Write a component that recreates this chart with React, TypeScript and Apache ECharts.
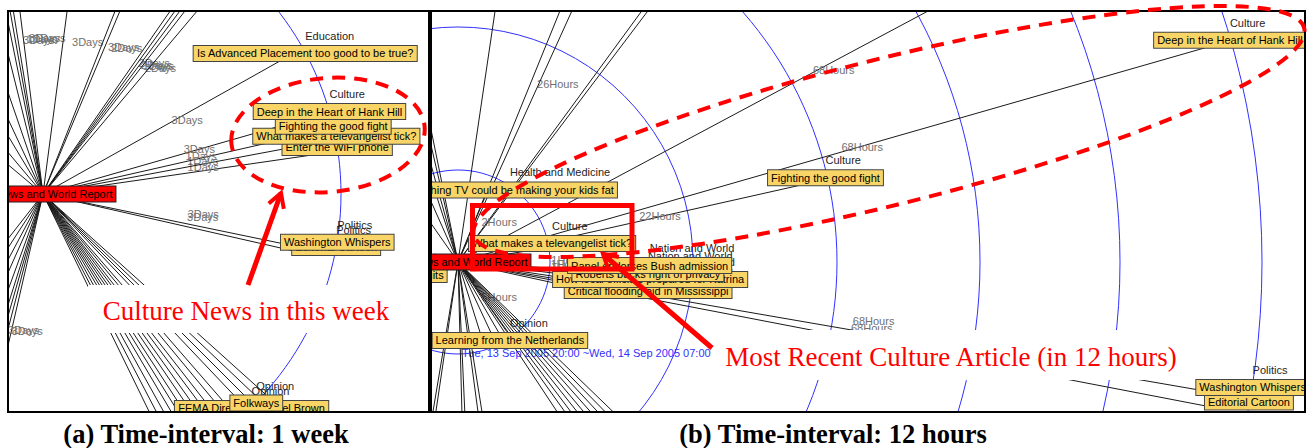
import React, { useEffect, useRef } from 'react';
import * as echarts from 'echarts';

// [distance from hub, angle in degrees (counter-clockwise from east), edge label, category, article title]
type Article = [number, number, string, string, string];

const HUB_TITLE = 'US News and World Report';

// ---------- (a) time-interval: 1 week ----------
const leftRings: number[] = [298];
const leftRingLabels: string[] = [''];
const leftArticles: Article[] = [
  [300, 140, '', '', ''],
  [300, 130, '', '', ''],
  [300, 121, '', '', ''],
  [300, 115, '', '', ''],
  [300, 109, '', '', ''],
  [300, 104, '', '', ''],
  [300, 101.5, '3Days', '', ''],
  [300, 100.2, '1Days', '', ''],
  [300, 99.2, '3Days', '', ''],
  [300, 97.2, '1Days', '', ''],
  [292, 82.5, '3Days', '', ''],
  [300, 68.5, '3Days', '', ''],
  [300, 67.2, '2Days', '', ''],
  [300, 55.2, '2Days', '', ''],
  [300, 54.2, '2Days', '', ''],
  [300, 53.2, '1Days', '', ''],
  [300, 52.2, '2Days', '', ''],
  [300, 49.9, '', '', ''],
  [272, 29.3, '3Days', 'Education', 'Is Advanced Placement too good to be true?'],
  [272, 8.25, '1Days', 'Culture', 'Enter the WiFi phone'],
  [273, 10.6, '1Days', 'Culture', 'What makes a televangelist tick?'],
  [272, 12.8, '1Days', 'Culture', 'Fighting the good fight'],
  [272, 16.0, '3Days', 'Culture', 'Deep in the Heart of Hank Hill'],
  [275, -12.8, '3Days', 'Politics', 'Editorial Cartoon'],
  [275, -11.7, '3Days', 'Politics', 'Washington Whispers'],
  [300, -42, '', '', ''],
  [300, -43.5, '', '', ''],
  [300, -45, '', '', ''],
  [300, -46.5, '', '', ''],
  [300, -52, '', '', ''],
  [300, -53.2, '', '', ''],
  [300, -54.5, '', '', ''],
  [300, -55.7, '', '', ''],
  [300, -57, '', '', ''],
  [300, -58.2, '', '', ''],
  [300, -59.5, '', '', ''],
  [300, -61, '', '', ''],
  [300, -62.5, '', '', ''],
  [300, -64, '', '', ''],
  [288, -50.4, '', 'Opinion', 'FEMA Director Michael Brown'],
  [287, -49, '', 'Opinion', 'Folkways'],
  [300, -103, '', '', ''],
  [300, -104.5, '', '', ''],
  [300, -106, '3Days', '', ''],
  [300, -107.5, '3Days', '', ''],
  [300, -110, '', '', ''],
  [300, -114, '', '', ''],
  [300, -118, '', '', ''],
  [300, -123, '', '', ''],
  [300, -128, '', '', ''],
];

// ---------- (b) time-interval: 12 hours ----------
const rightRings: number[] = [92, 235, 379, 522, 662, 804];
const rightRingLabels: string[] = ['Tue, 13 Sep 2005 20:00 ~Wed, 14 Sep 2005 07:00', '', '', '', '', ''];
const rightArticles: Article[] = [
  [300, 125, '', '', ''],
  [300, 114, '', '', ''],
  [300, 108, '', '', ''],
  [300, 105.5, '', '', ''],
  [300, 103, '', '', ''],
  [300, 101.5, '', '', ''],
  [500, 81.6, '', '', ''],
  [367, 67.9, '26Hours', '', ''],
  [500, 65.6, '', '', ''],
  [600, 53.8, '', '', ''],
  [600, 52.9, '', '', ''],
  [782, 28.1, '68Hours', '', ''],
  [64, -161.7, '', 'Arts', 'Lawsuits'],
  [70, 67.4, '2Hours', 'Health and Medicine', 'Watching TV could be making your kids fat'],
  [777, 16.0, '68Hours', 'Culture', 'Deep in the Heart of Hank Hill'],
  [351, 12.65, '22Hours', 'Culture', 'Fighting the good fight'],
  [70, 9.1, '', 'Culture', 'What makes a televangelist tick?'],
  [169, -12.3, '1Hours', 'Nation and World', 'Critical flooding aid in Mississippi'],
  [169, -8.5, '1Hours', 'Nation and World', 'How local officials prepared for Katrina'],
  [166, -6.6, '1Hours', 'Nation and World', 'Roberts backs right of privacy'],
  [167, -3.8, '1Hours', 'Nation and World', 'Panel endorses Bush admission'],
  [780, -10.9, '68Hours', 'Politics', 'Editorial Cartoon'],
  [781, -9.8, '68Hours', 'Politics', 'Washington Whispers'],
  [85, -55, '', '', ''],
  [85, -60, '', '', ''],
  [88, -65, '', '', ''],
  [90, -72.6, '5Hours', 'Opinion', 'Learning from the Netherlands'],
  [300, -44, '', '', ''],
  [300, -45.5, '', '', ''],
  [300, -47, '', '', ''],
  [300, -48.5, '', '', ''],
  [300, -50, '', '', ''],
  [300, -51.5, '', '', ''],
  [300, -53, '', '', ''],
  [300, -54.5, '', '', ''],
  [300, -56.5, '', '', ''],
  [300, -80.9, '', '', ''],
  [300, -82.4, '', '', ''],
  [300, -87.4, '', '', ''],
  [300, -88.5, '', '', ''],
  [300, -98.4, '', '', ''],
  [300, -99.5, '', '', ''],
];

const captions: string[] = ['(a) Time-interval: 1 week', '(b) Time-interval: 12 hours'];
const notes: string[] = ['Culture News in this week', 'Most Recent Culture Article (in 12 hours)'];

const SANS = '"Liberation Sans", Arial, sans-serif';
const SERIF = '"Liberation Serif", "Times New Roman", serif';
const norm = (a: number) => ((a % 360) + 360) % 360;

function panelSeries(polarIndex: number, rings: number[], ringLabels: string[], arts: Article[], zBase: number): any[] {
  const pos = arts.map((a) => [a[0], norm(a[1])]);
  return [
    {
      type: 'custom', coordinateSystem: 'polar', polarIndex, z: zBase, silent: true,
      data: rings.map((r) => [r, 0]),
      renderItem: (params: any, api: any) => {
        const c = api.coord([0, 0]);
        const r = api.value(0);
        const p = api.coord([r, 0]);
        const rad = Math.hypot(p[0] - c[0], p[1] - c[1]);
        const b = api.coord([r, 270]);
        const children: any[] = [
          { type: 'circle', shape: { cx: c[0], cy: c[1], r: rad }, style: { fill: 'none', stroke: '#3030ff', lineWidth: 1 } },
        ];
        const t = ringLabels[params.dataIndex];
        if (t) {
          children.push({ type: 'text', x: b[0] + 4, y: b[1] + 4, style: { text: t, font: `11px ${SANS}`, fill: '#3030ff', align: 'left', verticalAlign: 'bottom' } });
        }
        return { type: 'group', children };
      },
    },
    {
      type: 'custom', coordinateSystem: 'polar', polarIndex, z: zBase + 1, silent: true,
      data: pos,
      renderItem: (params: any, api: any) => {
        const a = arts[params.dataIndex];
        const c = api.coord([0, 0]);
        const p = api.coord([api.value(0), api.value(1)]);
        const m = api.coord([api.value(0) / 2, api.value(1)]);
        const children: any[] = [
          { type: 'line', shape: { x1: c[0], y1: c[1], x2: p[0], y2: p[1] }, style: { stroke: '#1a1a1a', lineWidth: 1 } },
        ];
        if (a[2]) {
          children.push({ type: 'text', x: m[0] + 10, y: m[1] - 2, style: { text: a[2], font: `11px ${SANS}`, fill: '#707070', align: 'left', verticalAlign: 'bottom' } });
        }
        return { type: 'group', children };
      },
    },
    {
      type: 'custom', coordinateSystem: 'polar', polarIndex, z: zBase + 2, silent: true,
      data: pos,
      renderItem: (params: any, api: any) => {
        const a = arts[params.dataIndex];
        if (!a[4]) return { type: 'group', children: [] };
        const p = api.coord([api.value(0), api.value(1)]);
        const bx = p[0] + 25;
        const by = p[1];
        const children: any[] = [];
        if (a[3]) {
          children.push({ type: 'text', x: bx, y: by - 25, style: { text: a[3], font: `11px ${SANS}`, fill: '#1e1e1e', align: 'left', verticalAlign: 'middle' } });
        }
        children.push({
          type: 'text', x: bx, y: by,
          style: {
            text: a[4], font: `11px ${SANS}`, fill: '#000', align: 'center', verticalAlign: 'bottom', lineHeight: 13,
            backgroundColor: '#f8d566', borderColor: '#444', borderWidth: 1, padding: [1, 3, 1, 3],
          },
        });
        return { type: 'group', children };
      },
    },
    {
      type: 'custom', coordinateSystem: 'polar', polarIndex, z: zBase + 3, silent: true,
      data: [[0, 0]],
      renderItem: (_params: any, api: any) => {
        const c = api.coord([0, 0]);
        return {
          type: 'text', x: c[0] + 2, y: c[1],
          style: {
            text: HUB_TITLE, font: `11px ${SANS}`, fill: '#000', align: 'center', verticalAlign: 'middle', lineHeight: 13,
            backgroundColor: '#ff0000', borderColor: '#222', borderWidth: 1, padding: [1, 3, 1, 3],
          },
        };
      },
    },
  ];
}

function arrow(x1: number, y1: number, x2: number, y2: number, z: number): any[] {
  const ang = Math.atan2(y2 - y1, x2 - x1);
  const L = 14;
  const hw = 8;
  const bx = x2 - L * Math.cos(ang);
  const by = y2 - L * Math.sin(ang);
  const px = -Math.sin(ang) * hw;
  const py = Math.cos(ang) * hw;
  return [
    { type: 'line', z, silent: true, shape: { x1, y1, x2, y2 }, style: { stroke: '#ff0000', lineWidth: 5 } },
    { type: 'polyline', z, silent: true, shape: { points: [[bx + px, by + py], [x2, y2], [bx - px, by - py]] }, style: { stroke: '#ff0000', lineWidth: 4, fill: 'none' } },
  ];
}

function rectEl(x: number, y: number, w: number, h: number, z: number, style: any) {
  return { type: 'rect', z, silent: true, shape: { x, y, width: w, height: h }, style };
}

function textEl(x: number, y: number, text: string, font: string, fill: string, z: number) {
  return {
    type: 'text', z, silent: true, x, y,
    style: { text, font, fill, align: 'center', verticalAlign: 'middle', textAlign: 'center', textVerticalAlign: 'middle' },
  };
}

export default function App() {
  const ref = useRef<HTMLDivElement>(null);
  useEffect(() => {
    if (!ref.current) return;
    const chart = echarts.init(ref.current, null, { renderer: 'svg' });
    const white = { fill: '#ffffff' };
    const dash = { fill: 'none', stroke: '#ff0000', lineWidth: 4, lineDash: [13, 9] };
    const option: any = {
      animation: false,
      backgroundColor: '#ffffff',
      polar: [
        { center: [43, 194], radius: 1000 },
        { center: [458, 262], radius: 1000 },
      ],
      radiusAxis: [
        { polarIndex: 0, type: 'value', min: 0, max: 1000, show: false },
        { polarIndex: 1, type: 'value', min: 0, max: 1000, show: false },
      ],
      angleAxis: [
        { polarIndex: 0, type: 'value', min: 0, max: 360, startAngle: 0, clockwise: false, show: false },
        { polarIndex: 1, type: 'value', min: 0, max: 360, startAngle: 0, clockwise: false, show: false },
      ],
      series: [
        ...panelSeries(1, rightRings, rightRingLabels, rightArticles, 1),
        ...panelSeries(0, leftRings, leftRingLabels, leftArticles, 11),
      ],
      graphic: {
        elements: [
          rectEl(8, 11, 421, 401, 10, white),
          rectEl(0, 0, 1313, 11, 30, white),
          rectEl(0, 412, 1313, 36, 30, white),
          rectEl(0, 0, 8, 448, 30, white),
          rectEl(1305, 0, 8, 448, 30, white),
          rectEl(88, 285, 322, 48, 40, white),
          rectEl(712, 330, 483, 50, 40, white),
          rectEl(8, 11, 421, 401, 50, { fill: 'none', stroke: '#000', lineWidth: 2 }),
          rectEl(431, 11, 874, 401, 50, { fill: 'none', stroke: '#000', lineWidth: 2 }),
          { type: 'ellipse', z: 60, silent: true, x: 328, y: 135, rotation: (5 * Math.PI) / 180, shape: { cx: 0, cy: 0, rx: 97, ry: 57 }, style: dash },
          { type: 'ellipse', z: 60, silent: true, x: 889, y: 131.5, rotation: (14 * Math.PI) / 180, shape: { cx: 0, cy: 0, rx: 428, ry: 73 }, style: dash },
          rectEl(472.5, 205.5, 159.5, 63.5, 60, { fill: 'none', stroke: '#ff0000', lineWidth: 5 }),
          ...arrow(248, 285, 281, 193, 60),
          ...arrow(712, 348, 603, 254, 60),
          textEl(246, 311, notes[0], `27px ${SERIF}`, '#ff0000', 60),
          textEl(951, 357, notes[1], `27px ${SERIF}`, '#ff0000', 60),
          textEl(206, 434, captions[0], `bold 26.5px ${SERIF}`, '#000', 60),
          textEl(833, 434, captions[1], `bold 26.5px ${SERIF}`, '#000', 60),
        ],
      },
    };
    chart.setOption(option);
    return () => chart.dispose();
  }, []);
  return <div ref={ref} style={{ position: 'fixed', left: 0, top: 0, width: 1313, height: 448, background: '#fff' }} />;
}
